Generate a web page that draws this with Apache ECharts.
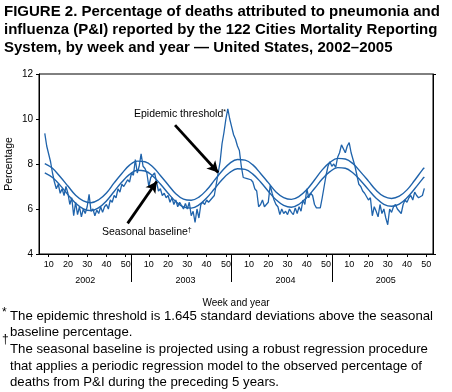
<!DOCTYPE html>
<html>
<head>
<meta charset="utf-8">
<script src="https://cdn.jsdelivr.net/npm/echarts@6/dist/echarts.min.js"></script>
<style>
html,body{margin:0;padding:0;background:#fff;}
#chart{width:452px;height:392px;}
</style>
</head>
<body>
<div id="chart"></div>
<script>
// ---- data ----
var years = [2002, 2003, 2004, 2005];
var weekTickLabels = [10, 20, 30, 40, 50];
var weeksPerYear = 52;
// observed weekly P&I percentage, starting at week 8 of 2002 (continuous week index)
var firstWeek = 8;
var observed = [
  9.36, 8.8, 8.75, 8.1, 7.6, 7.2, 6.9, 7.1, 6.7, 6.9, 6.6, 7.0, 6.7, 6.2, 6.5,
  5.7, 6.3, 5.75, 6.1, 5.65, 6.0, 5.8, 6.1, 6.65, 5.9, 6.0, 5.7, 5.95, 5.8, 6.1,
  5.85, 6.1, 6.2, 6.0, 6.4, 6.3, 6.6, 6.5, 6.9, 6.75, 7.1, 7.0, 7.15, 7.3, 7.2,
  7.6, 7.5, 8.2, 7.6, 7.9, 8.45, 7.9, 7.8, 7.6, 7.0, 7.4, 7.5, 7.6, 7.2, 6.8,
  6.9, 6.6, 6.7, 6.5, 6.6, 6.3, 6.5, 6.2, 6.4, 6.1, 6.3, 6.35, 6.0, 6.25, 6.0,
  6.3, 5.7, 5.9, 5.4, 6.0, 5.6, 6.2, 6.3, 6.2, 6.4, 6.3, 6.35, 6.5, 6.6, 7.1,
  7.6, 8.1, 8.9, 9.4, 10.0, 10.45, 10.0, 9.65, 9.3, 9.1, 8.8, 8.6, 7.9, 7.4, 7.35,
  7.35, 7.3, 7.3, 7.2, 6.9, 6.8, 6.1, 6.2, 6.4, 6.1, 6.1, 6.3, 7.05, 6.7, 6.4,
  6.2, 6.1, 5.75, 6.0, 5.8, 5.9, 5.75, 6.0, 5.85, 5.75, 6.05, 5.8, 6.1, 5.9, 6.4,
  6.2, 6.9, 6.5, 6.7, 6.6, 6.2, 6.05, 6.1, 6.05, 6.5, 7.0, 7.5, 7.9, 8.1, 7.9,
  8.0, 7.85, 8.3, 8.5, 8.85, 8.9, 8.5, 8.8, 8.95, 8.5, 8.2, 7.9, 7.5, 7.1, 7.0,
  6.8, 6.7, 6.75, 6.4, 6.5, 5.7, 6.1, 5.9, 5.65, 6.2, 5.8, 6.0, 5.6, 5.3, 6.0,
  5.85, 6.1, 6.2, 6.0, 5.9, 5.8, 6.2, 6.4, 6.3, 6.5, 6.6, 6.4, 6.75, 6.6, 6.5,
  6.5, 6.6, 6.92
];
// seasonal baseline and epidemic threshold, read at these week indices
var curveWeeks = [8, 12, 16, 20, 24, 28, 32, 36, 40, 44, 48, 52, 56, 60, 64, 68, 72, 76, 80, 84,
  88, 92, 96, 100, 104, 108, 112, 116, 120, 124, 128, 132, 136, 140, 144, 148, 152, 156, 160,
  164, 168, 172, 176, 180, 184, 188, 192, 196, 200, 204, 205];
var baseline = [7.61, 7.40, 7.05, 6.64, 6.26, 6.01, 5.93, 6.06, 6.36, 6.78, 7.20, 7.54, 7.72,
  7.69, 7.47, 7.11, 6.70, 6.33, 6.09, 6.04, 6.18, 6.49, 6.89, 7.30, 7.62, 7.79, 7.76, 7.55,
  7.20, 6.79, 6.41, 6.16, 6.08, 6.21, 6.51, 6.91, 7.33, 7.66, 7.84, 7.81, 7.60, 7.26, 6.86,
  6.48, 6.21, 6.12, 6.22, 6.50, 6.90, 7.33, 7.42];
var threshold = [8.02, 7.81, 7.43, 7.02, 6.61, 6.36, 6.28, 6.41, 6.71, 7.16, 7.58, 7.95, 8.13,
  8.10, 7.88, 7.49, 7.08, 6.68, 6.44, 6.39, 6.53, 6.84, 7.27, 7.69, 8.03, 8.20, 8.17, 7.96,
  7.58, 7.17, 6.76, 6.51, 6.43, 6.56, 6.86, 7.29, 7.74, 8.07, 8.25, 8.22, 8.01, 7.64, 7.24,
  6.83, 6.56, 6.47, 6.57, 6.85, 7.28, 7.74, 7.83];

// ---- build ----
var FONT = '"Liberation Sans", Arial, Helvetica, sans-serif';
var BLUE = '#1f63ab';
var weekTickPositions = [];
years.forEach(function (y, yi) {
  weekTickLabels.forEach(function (w) { weekTickPositions.push(yi * weeksPerYear + w); });
});
var yearBoundaries = years.slice(1).map(function (y, yi) { return (yi + 1) * weeksPerYear + 1; });
var yearCenters = years.map(function (y, yi) { return yi * weeksPerYear + 29; });

var obsData = observed.map(function (v, i) { return [firstWeek + i, v]; });
var baseData = baseline.map(function (v, i) { return [curveWeeks[i], v]; });
var thrData = threshold.map(function (v, i) { return [curveWeeks[i], v]; });

var chart = echarts.init(document.getElementById('chart'), null, { renderer: 'canvas' });
var xMin = 5, xMax = 209.5;
var option = {
  animation: false,
  backgroundColor: '#fff',
  textStyle: { fontFamily: FONT },
  title: {
    text: 'FIGURE 2. Percentage of deaths attributed to pneumonia and\ninfluenza (P&I) reported by the 122 Cities Mortality Reporting\nSystem, by week and year \u2014 United States, 2002\u20132005',
    left: 4, top: 3, padding: 0,
    textStyle: { fontFamily: FONT, fontSize: 15, fontWeight: 'bold', lineHeight: 18, color: '#000' }
  },
  grid: { left: 39, right: 19, top: 74, bottom: 138, containLabel: false, outerBoundsMode: 'none',
    show: true, borderColor: '#000', borderWidth: 1 },
  xAxis: [{
    type: 'value', min: xMin, max: xMax,
    name: 'Week and year', nameLocation: 'middle', nameGap: 44, nameMoveOverlap: false,
    nameTextStyle: { fontFamily: FONT, fontSize: 10, color: '#000' },
    axisLine: { show: true, lineStyle: { color: '#000', width: 1 } },
    splitLine: { show: false },
    axisTick: { show: true, inside: false, length: 3, customValues: weekTickPositions, lineStyle: { color: '#000' } },
    axisLabel: {
      customValues: weekTickPositions, margin: 6, fontSize: 9, color: '#000', fontFamily: FONT,
      formatter: function (v) { return String(((v - 1) % weeksPerYear) + 1); }
    }
  }, {
    type: 'value', min: xMin, max: xMax, position: 'bottom',
    axisLine: { show: false },
    splitLine: { show: false },
    axisTick: { show: true, inside: false, length: 28, customValues: yearBoundaries, lineStyle: { color: '#000', width: 1 } },
    axisLabel: {
      customValues: yearCenters, margin: 22, fontSize: 9, color: '#000', fontFamily: FONT,
      formatter: function (v) { return String(years[Math.round((v - 29) / weeksPerYear)]); }
    }
  }],
  yAxis: [{
    type: 'value', min: 4, max: 12, interval: 2,
    name: 'Percentage', nameLocation: 'middle', nameGap: 24, nameRotate: 90, nameMoveOverlap: false,
    nameTextStyle: { fontFamily: FONT, fontSize: 10.5, color: '#000' },
    axisLine: { show: true, lineStyle: { color: '#000', width: 1 } },
    splitLine: { show: false },
    axisTick: { show: true, inside: false, length: 3, lineStyle: { color: '#000' } },
    axisLabel: { margin: 6, fontSize: 10, color: '#000', fontFamily: FONT }
  }, {
    type: 'value', min: 4, max: 12, interval: 8, position: 'right',
    axisLine: { show: true, lineStyle: { color: '#000', width: 1 } },
    splitLine: { show: false },
    axisTick: { show: true, inside: false, length: 3, lineStyle: { color: '#000' } },
    axisLabel: { show: false }
  }],
  series: [{
    name: 'Seasonal baseline', type: 'line', data: baseData, smooth: 0.4,
    showSymbol: false, lineStyle: { color: BLUE, width: 1.4 }, silent: true
  }, {
    name: 'Epidemic threshold', type: 'line', data: thrData, smooth: 0.4,
    showSymbol: false, lineStyle: { color: BLUE, width: 1.4 }, silent: true
  }, {
    name: 'Observed', type: 'line', data: obsData,
    showSymbol: false, lineStyle: { color: BLUE, width: 1.3 }, silent: true,
    markLine: {
      silent: true, symbol: ['none', 'arrow'], symbolSize: [9, 11],
      label: { show: false },
      lineStyle: { color: '#000', width: 2.8, type: 'solid' },
      data: [
        [{ coord: [75.6, 9.73] }, { coord: [98.0, 7.62] }],
        [{ coord: [51.0, 5.36] }, { coord: [66.1, 7.22] }]
      ]
    }
  }],
  graphic: [
    { type: 'text', x: 134, y: 114, z: 100, style: { text: 'Epidemic threshold{s|*}', font: '10.5px ' + FONT, fill: '#000', verticalAlign: 'middle',
      rich: { s: { fontSize: 7, fontFamily: FONT, padding: [0, 0, 4, 0] } } } },
    { type: 'text', x: 102, y: 232, z: 100, style: { text: 'Seasonal baseline{s|\u2020}', font: '10.5px ' + FONT, fill: '#000', verticalAlign: 'middle',
      rich: { s: { fontSize: 7, fontFamily: FONT, padding: [0, 0, 4, 0] } } } },
    { type: 'text', x: 2, y: 313, style: { text: '*', font: '12px ' + FONT, fill: '#000', verticalAlign: 'middle' } },
    { type: 'text', x: 10, y: 316, style: { text: 'The epidemic threshold is 1.645 standard deviations above the seasonal', font: '13.2px ' + FONT, fill: '#000', verticalAlign: 'middle' } },
    { type: 'text', x: 10, y: 332, style: { text: 'baseline percentage.', font: '13.2px ' + FONT, fill: '#000', verticalAlign: 'middle' } },
    { type: 'text', x: 2, y: 340, style: { text: '\u2020', font: '12px ' + FONT, fill: '#000', verticalAlign: 'middle' } },
    { type: 'text', x: 10, y: 349, style: { text: 'The seasonal baseline is projected using a robust regression procedure', font: '13.2px ' + FONT, fill: '#000', verticalAlign: 'middle' } },
    { type: 'text', x: 10, y: 366, style: { text: 'that applies a periodic regression model to the observed percentage of', font: '13.2px ' + FONT, fill: '#000', verticalAlign: 'middle' } },
    { type: 'text', x: 10, y: 382, style: { text: 'deaths from P&I during the preceding 5 years.', font: '13.2px ' + FONT, fill: '#000', verticalAlign: 'middle' } }
  ]
};
chart.setOption(option);
</script>
</body>
</html>
